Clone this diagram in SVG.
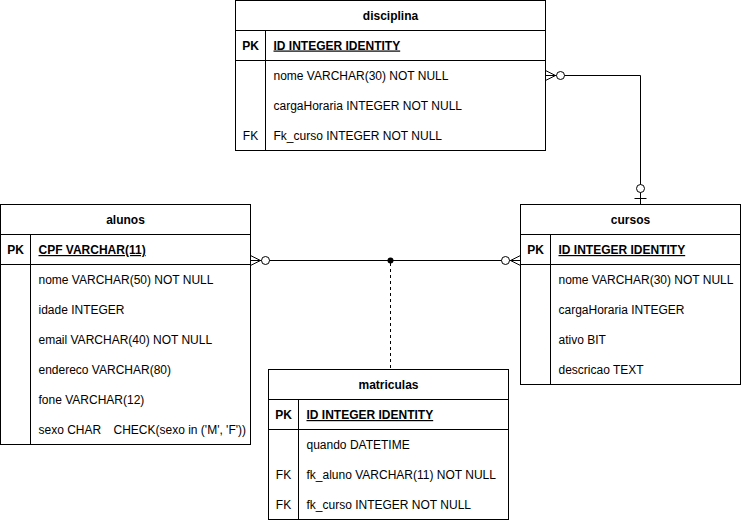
<svg xmlns="http://www.w3.org/2000/svg" width="742" height="521" viewBox="0 0 742 521">
<style>
.box{fill:#fff;stroke:#000;stroke-width:1}
.ln{stroke:#000;stroke-width:1;fill:none}
text{font-family:"Liberation Sans",Arial,sans-serif;font-size:12px;fill:#000}
.t{font-weight:bold;text-anchor:middle}
.k{text-anchor:middle}
.pk{font-weight:bold;text-decoration:underline}
.kb{font-weight:bold;text-anchor:middle}
.c{fill:#fff;stroke:#000;stroke-width:1}
</style>
<rect width="742" height="521" fill="#fff"/>
<g id="connectors">
<line class="ln" x1="250.5" y1="260.5" x2="520.5" y2="260.5"/>
<path class="ln" d="M250.5,255.5 L260.5,260.5 L250.5,265.5"/>
<circle class="c" cx="265.5" cy="260.5" r="4"/>
<path class="ln" d="M520.5,255.5 L510.5,260.5 L520.5,265.5"/>
<circle class="c" cx="505.5" cy="260.5" r="4"/>
<circle cx="390.5" cy="260.5" r="3" fill="#000"/>
<line class="ln" x1="390.5" y1="263" x2="390.5" y2="369.5" stroke-dasharray="3,3"/>
<path class="ln" d="M545.5,75.5 H640.5 V204.5"/>
<path class="ln" d="M545.5,70.5 L555.5,75.5 L545.5,80.5"/>
<circle class="c" cx="560.5" cy="75.5" r="4"/>
<circle class="c" cx="640.5" cy="188.5" r="4"/>
<line class="ln" x1="634.5" y1="198.5" x2="646.5" y2="198.5"/>
</g>
<g id="disciplina">
<rect class="box" x="235.5" y="0.5" width="310" height="150"/>
<line class="ln" x1="235.5" y1="30.5" x2="545.5" y2="30.5"/>
<line class="ln" x1="235.5" y1="60.5" x2="545.5" y2="60.5"/>
<line class="ln" x1="265.5" y1="30.5" x2="265.5" y2="150.5"/>
<text class="t" x="390.5" y="19.5">disciplina</text>
<text class="kb" x="250.5" y="49.5">PK</text>
<text class="pk" x="273.5" y="49.5">ID INTEGER IDENTITY</text>
<text x="273.5" y="79.5">nome VARCHAR(30) NOT NULL</text>
<text x="273.5" y="109.5">cargaHoraria INTEGER NOT NULL</text>
<text class="k" x="250.5" y="139.5">FK</text>
<text x="273.5" y="139.5">Fk_curso INTEGER NOT NULL</text>
</g>
<g id="alunos">
<rect class="box" x="0.5" y="204.5" width="250" height="240"/>
<line class="ln" x1="0.5" y1="234.5" x2="250.5" y2="234.5"/>
<line class="ln" x1="0.5" y1="264.5" x2="250.5" y2="264.5"/>
<line class="ln" x1="30.5" y1="234.5" x2="30.5" y2="444.5"/>
<text class="t" x="125.5" y="224">alunos</text>
<text class="kb" x="15.5" y="254">PK</text>
<text class="pk" x="38.5" y="254">CPF VARCHAR(11)</text>
<text x="38.5" y="284">nome VARCHAR(50) NOT NULL</text>
<text x="38.5" y="314">idade INTEGER</text>
<text x="38.5" y="344">email VARCHAR(40) NOT NULL</text>
<text x="38.5" y="374">endereco VARCHAR(80)</text>
<text x="38.5" y="404">fone VARCHAR(12)</text>
<text x="38.5" y="434">sexo CHAR<tspan x="113.5">CHECK(sexo in ('M', 'F'))</tspan></text>
</g>
<g id="cursos">
<rect class="box" x="520.5" y="204.5" width="220" height="180"/>
<line class="ln" x1="520.5" y1="234.5" x2="740.5" y2="234.5"/>
<line class="ln" x1="520.5" y1="264.5" x2="740.5" y2="264.5"/>
<line class="ln" x1="550.5" y1="234.5" x2="550.5" y2="384.5"/>
<text class="t" x="630.5" y="224">cursos</text>
<text class="kb" x="535.5" y="254">PK</text>
<text class="pk" x="558.5" y="254">ID INTEGER IDENTITY</text>
<text x="558.5" y="284">nome VARCHAR(30) NOT NULL</text>
<text x="558.5" y="314">cargaHoraria INTEGER</text>
<text x="558.5" y="344">ativo BIT</text>
<text x="558.5" y="374">descricao TEXT</text>
</g>
<g id="matriculas">
<rect class="box" x="268.5" y="369.5" width="240" height="150"/>
<line class="ln" x1="268.5" y1="399.5" x2="508.5" y2="399.5"/>
<line class="ln" x1="268.5" y1="429.5" x2="508.5" y2="429.5"/>
<line class="ln" x1="298.5" y1="399.5" x2="298.5" y2="519.5"/>
<text class="t" x="388.5" y="389">matriculas</text>
<text class="kb" x="283.5" y="419">PK</text>
<text class="pk" x="306.5" y="419">ID INTEGER IDENTITY</text>
<text x="306.5" y="449">quando DATETIME</text>
<text class="k" x="283.5" y="479">FK</text>
<text x="306.5" y="479">fk_aluno VARCHAR(11) NOT NULL</text>
<text class="k" x="283.5" y="509">FK</text>
<text x="306.5" y="509">fk_curso INTEGER NOT NULL</text>
</g>
</svg>
